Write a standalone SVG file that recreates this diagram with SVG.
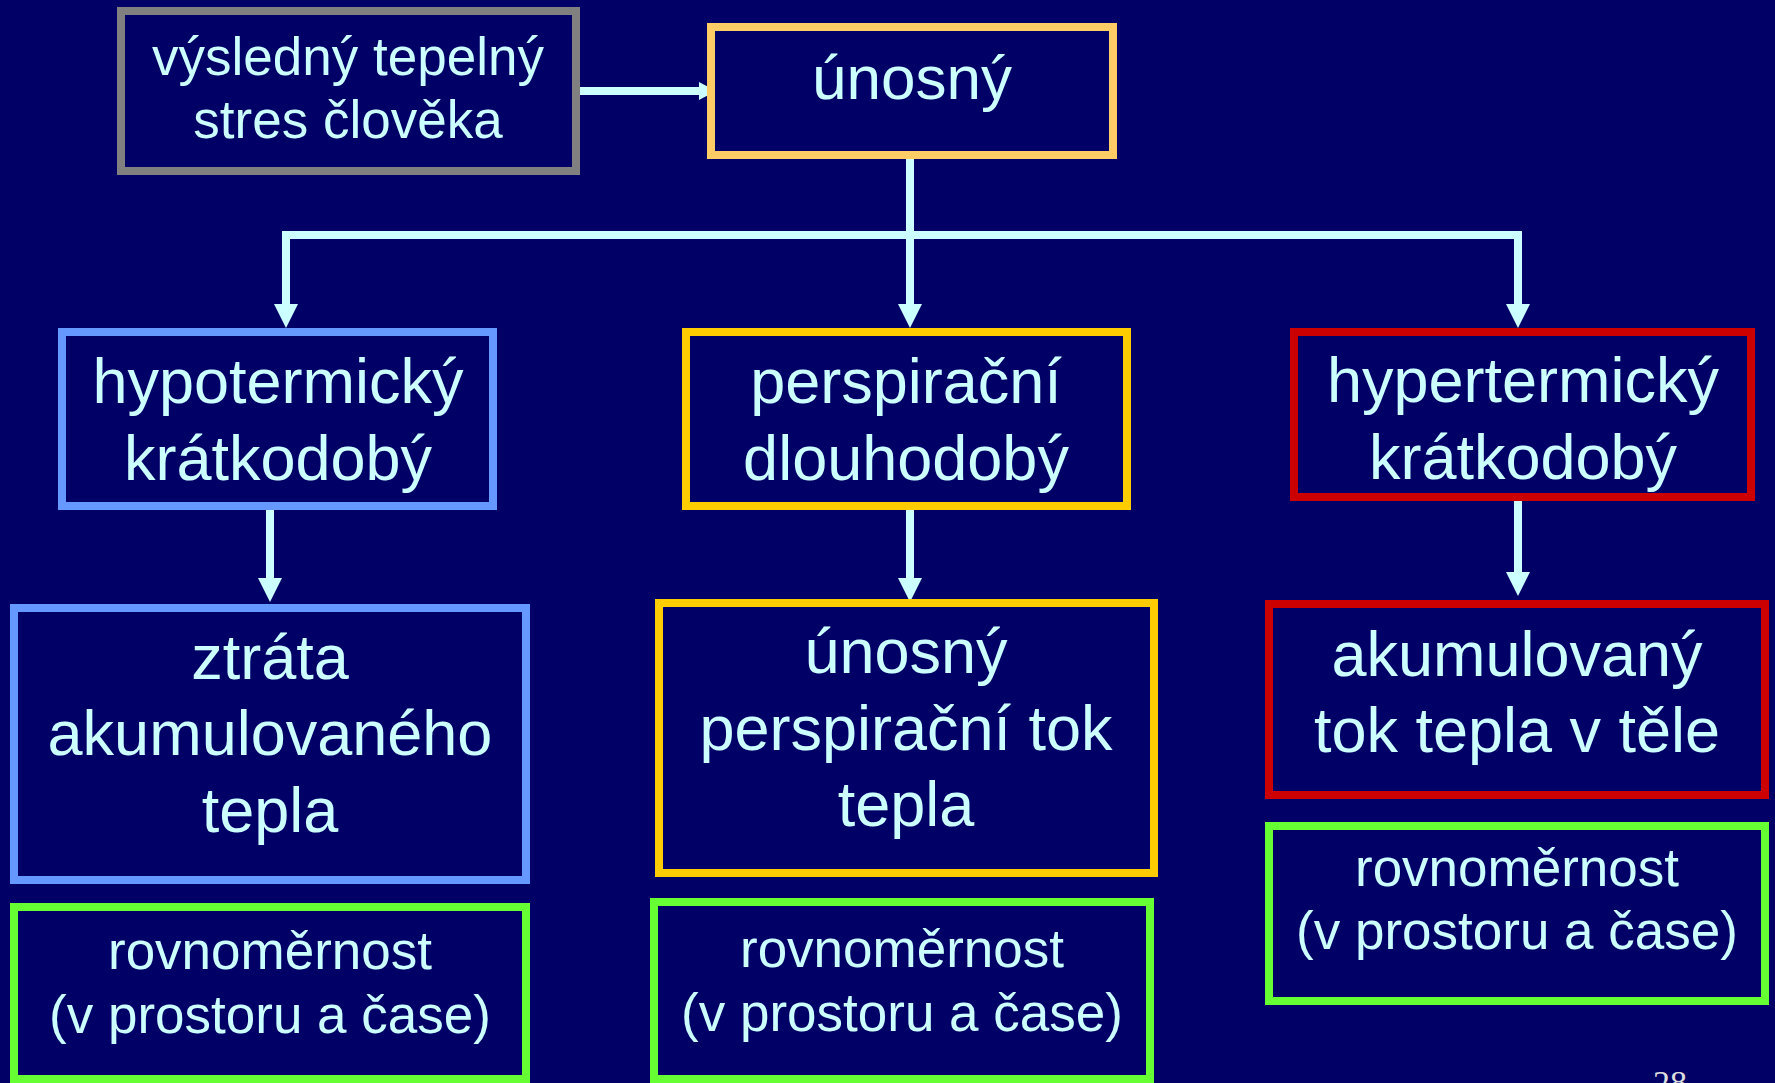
<svg xmlns="http://www.w3.org/2000/svg" width="1775" height="1083" viewBox="0 0 1775 1083">
<style>
.box{fill:#000066;stroke-width:8}
.t{font-family:"Liberation Sans",Arial,sans-serif;fill:#CCFFFF;text-anchor:middle}
.big{font-size:63px}
.mid{font-size:53px}
.conn{stroke:#CCFFFF;stroke-width:8;fill:none}
</style>
<defs>
<marker id="ah" markerUnits="userSpaceOnUse" markerWidth="24" markerHeight="24" refX="0" refY="12" orient="auto" viewBox="0 0 24 24">
<path d="M0,0 L24,12 L0,24 z" fill="#CCFFFF"/>
</marker>
<marker id="ahs" markerUnits="userSpaceOnUse" markerWidth="17" markerHeight="18" refX="0" refY="9" orient="auto" viewBox="0 0 17 18">
<path d="M0,0 L17,9 L0,18 z" fill="#CCFFFF"/>
</marker>
</defs>
<rect x="0" y="0" width="1775" height="1083" fill="#000066"/>
<g id="connectors">
<line class="conn" x1="580" y1="91" x2="699" y2="91" marker-end="url(#ahs)"/>
<line class="conn" x1="910" y1="159" x2="910" y2="235"/>
<line class="conn" x1="282" y1="235" x2="1522" y2="235"/>
<line class="conn" x1="286" y1="231" x2="286" y2="304" marker-end="url(#ah)"/>
<line class="conn" x1="910" y1="231" x2="910" y2="304" marker-end="url(#ah)"/>
<line class="conn" x1="1518" y1="231" x2="1518" y2="304" marker-end="url(#ah)"/>
<line class="conn" x1="270" y1="510" x2="270" y2="578" marker-end="url(#ah)"/>
<line class="conn" x1="910" y1="510" x2="910" y2="578" marker-end="url(#ah)"/>
<line class="conn" x1="1518" y1="501" x2="1518" y2="572" marker-end="url(#ah)"/>
</g>
<g id="stres">
<rect class="box" x="121" y="11" width="455" height="160" stroke="#808080"/>
<text class="t mid" x="348" y="75">výsledný tepelný</text>
<text class="t mid" x="348" y="138">stres člověka</text>
</g>
<g id="unosny">
<rect class="box" x="711" y="27" width="402" height="128" stroke="#FFCC66"/>
<text class="t" font-size="62" x="912" y="99">únosný</text>
</g>
<g id="hypotermicky">
<rect class="box" x="62" y="332" width="431" height="174" stroke="#6699FF"/>
<text class="t big" x="278" y="403">hypotermický</text>
<text class="t big" x="278" y="480">krátkodobý</text>
</g>
<g id="perspiracni">
<rect class="box" x="686" y="332" width="441" height="174" stroke="#FFCC00"/>
<text class="t big" x="906" y="403">perspirační</text>
<text class="t big" x="906" y="480">dlouhodobý</text>
</g>
<g id="hypertermicky">
<rect class="box" x="1294" y="332" width="457" height="165" stroke="#CC0000"/>
<text class="t big" x="1523" y="402">hypertermický</text>
<text class="t big" x="1523" y="479">krátkodobý</text>
</g>
<g id="ztrata">
<rect class="box" x="14" y="608" width="512" height="272" stroke="#6699FF"/>
<text class="t big" x="270" y="679">ztráta</text>
<text class="t big" x="270" y="755">akumulovaného</text>
<text class="t big" x="270" y="832">tepla</text>
</g>
<g id="unosny-tok">
<rect class="box" x="659" y="603" width="495" height="270" stroke="#FFCC00"/>
<text class="t big" x="906" y="673">únosný</text>
<text class="t big" x="906" y="750">perspirační tok</text>
<text class="t big" x="906" y="826">tepla</text>
</g>
<g id="akumulovany">
<rect class="box" x="1269" y="604" width="496" height="191" stroke="#CC0000"/>
<text class="t big" x="1517" y="676">akumulovaný</text>
<text class="t big" x="1517" y="752">tok tepla v těle</text>
</g>
<g id="rovnomernost-1">
<rect class="box" x="14" y="907" width="512" height="172" stroke="#66FF33"/>
<text class="t mid" x="270" y="969">rovnoměrnost</text>
<text class="t mid" x="270" y="1033">(v prostoru a čase)</text>
</g>
<g id="rovnomernost-2">
<rect class="box" x="654" y="902" width="496" height="177" stroke="#66FF33"/>
<text class="t mid" x="902" y="967">rovnoměrnost</text>
<text class="t mid" x="902" y="1031">(v prostoru a čase)</text>
</g>
<g id="rovnomernost-3">
<rect class="box" x="1269" y="826" width="496" height="175" stroke="#66FF33"/>
<text class="t mid" x="1517" y="886">rovnoměrnost</text>
<text class="t mid" x="1517" y="949">(v prostoru a čase)</text>
</g>
<text x="1670" y="1094" font-family="Liberation Serif,serif" font-size="34" fill="#DDDDDD" text-anchor="middle">28</text>
</svg>
